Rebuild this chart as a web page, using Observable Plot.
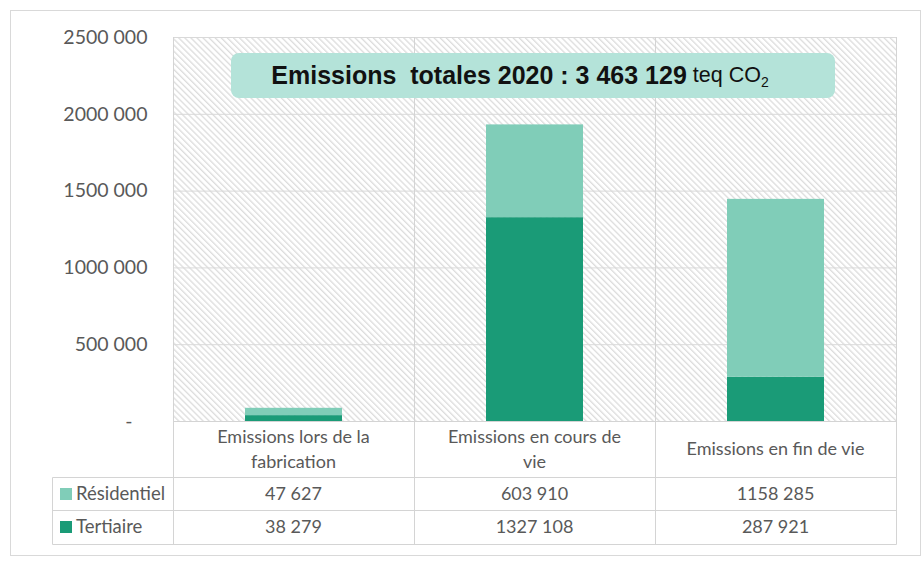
<!DOCTYPE html>
<html>
<head>
<meta charset="utf-8">
<script src="https://cdn.jsdelivr.net/npm/d3@7"></script>
<script src="https://cdn.jsdelivr.net/npm/@observablehq/plot@0.6"></script>
<style>
  html, body { margin: 0; padding: 0; background: #fff; }
  #wrap { position: relative; width: 922px; height: 566px; }
  #title {
    position: absolute; left: 231px; top: 53px; width: 604px; height: 45px;
    background: #b4e3d9; border-radius: 8px;
    font-family: "Liberation Sans", Arial, sans-serif; color: #111;
    display: flex; align-items: center; justify-content: center;
    box-sizing: border-box; padding-right: 26px; white-space: pre;
    font-size: 21.5px;
  }
  #title b { font-weight: bold; font-size: 25px; }
  #title .sub { font-size: 14px; position: relative; top: 6px; }
</style>
</head>
<body>
<div id="wrap">
  <div id="chart"></div>
  <div id="title"><b>Emissions  totales 2020 : 3 463 129</b> teq CO<span class="sub">2</span></div>
</div>
<script>
// ---- data ----
const categories = ["Emissions lors de la fabrication", "Emissions en cours de vie", "Emissions en fin de vie"];
const categoryLines = [["Emissions lors de la", "fabrication"], ["Emissions en cours de", "vie"], ["Emissions en fin de vie"]];
const series = ["Tertiaire", "Résidentiel"];
const tertiaire = [38279, 1327108, 287921];
const residentiel = [47627, 603910, 1158285];
const seriesColors = ["#1a9b77", "#80cdb8"];
const yTicks = [0, 500000, 1000000, 1500000, 2000000, 2500000];
const tableRows = ["Résidentiel", "Tertiaire"];

// Excel-like format: "2500 000", "47 627", zero as "-"
const fmt = v => {
  if (v === 0) return "-\u00a0\u00a0\u00a0";
  const s = String(v);
  return s.length > 3 ? s.slice(0, -3) + " " + s.slice(-3) : s;
};

const rows = [];
categories.forEach((c, i) => {
  rows.push({category: c, series: "Tertiaire", value: tertiaire[i]});
  rows.push({category: c, series: "Résidentiel", value: residentiel[i]});
});
const tableValues = {"Résidentiel": residentiel, "Tertiaire": tertiaire};

function tableMark(index, scales, values, dims) {
  const x = scales.x;
  const plotW = dims.width - dims.marginLeft - dims.marginRight;
  const bw = (x.bandwidth ? x.bandwidth() : plotW / categories.length);
  const top = dims.marginTop;
  const base = dims.height - dims.marginBottom;
  const headerBottom = base + 56;
  const rowEdges = [headerBottom, headerBottom + 33, headerBottom + 67];
  const legendLeft = 52;
  const lineColor = "#d4d4d4";
  const g = d3.create("svg:g");
  // outer chart border
  g.append("rect").attr("x", 10.5).attr("y", 10.5).attr("width", 910).attr("height", 545)
    .attr("fill", "none").attr("stroke", "#d9d9d9");
  const line = (x1, y1, x2, y2) => g.append("line")
    .attr("x1", x1).attr("y1", y1).attr("x2", x2).attr("y2", y2)
    .attr("stroke", lineColor).attr("stroke-width", 1);
  const bounds = categories.map(c => x(c)).concat([x(categories[categories.length - 1]) + bw]).map(v => Math.round(v) + 0.5);
  const right = bounds[bounds.length - 1];
  bounds.forEach(bx => line(bx, top, bx, rowEdges[2] + 0.5));
  line(bounds[0], base + 0.5, right, base + 0.5);
  rowEdges.forEach(ry => line(legendLeft + 0.5, ry + 0.5, right, ry + 0.5));
  line(legendLeft + 0.5, headerBottom + 0.5, legendLeft + 0.5, rowEdges[2] + 0.5);
  // header
  categories.forEach((c, i) => {
    const cx = x(c) + bw / 2;
    const lines = categoryLines[i];
    const ys = lines.length === 2 ? [base + 16, base + 41] : [base + 28];
    lines.forEach((t, k) => g.append("text")
      .attr("x", cx).attr("y", ys[k]).attr("dy", "0.35em")
      .attr("text-anchor", "middle").attr("font-size", 18).attr("fill", "#595959").text(t));
  });
  // rows
  tableRows.forEach((r, j) => {
    const cy = rowEdges[j] + 17;
    const color = seriesColors[series.indexOf(r)];
    g.append("rect").attr("x", 60).attr("y", cy - 6).attr("width", 12).attr("height", 12).attr("fill", color);
    g.append("text").attr("x", 76).attr("y", cy).attr("dy", "0.35em")
      .attr("text-anchor", "start").attr("font-size", 18.5).attr("fill", "#595959").text(r);
    categories.forEach((c, i) => {
      g.append("text").attr("x", x(c) + bw / 2).attr("y", cy).attr("dy", "0.35em")
        .attr("text-anchor", "middle").attr("font-size", 18).attr("fill", "#595959")
        .text(fmt(tableValues[r][i]));
    });
  });
  return g.node();
}

const chart = Plot.plot({
  width: 922,
  height: 566,
  marginLeft: 173,
  marginRight: 26,
  marginTop: 37,
  marginBottom: 145,
  style: {fontFamily: "Lato, sans-serif", fontSize: "18px", color: "#595959", background: "transparent", overflow: "visible"},
  x: {type: "band", domain: categories, padding: 0, axis: null},
  y: {domain: [0, 2500000], axis: null},
  color: {domain: series, range: seriesColors},
  marks: [
    Plot.frame({fill: "url(#hatch)", stroke: null}),
    Plot.gridY(yTicks, {stroke: "#d9d9d9", strokeOpacity: 1, strokeWidth: 1}),
    Plot.barY(rows, {x: "category", y: "value", fill: "series", insetLeft: 72, insetRight: 72}),
    Plot.axisY(yTicks, {tickSize: 0, tickPadding: 26, tickFormat: fmt, fontSize: 19.5, label: null}),
    tableMark
  ]
});

// hatch pattern for the plot area
const ns = "http://www.w3.org/2000/svg";
const defs = document.createElementNS(ns, "defs");
defs.innerHTML = '<pattern id="hatch" patternUnits="userSpaceOnUse" width="4.3" height="4.3" patternTransform="rotate(-45)">' +
  '<rect width="4.3" height="4.3" fill="#ffffff"/>' +
  '<line x1="0.7" y1="0" x2="0.7" y2="4.3" stroke="#d6d6d6" stroke-width="1.1"/></pattern>';
chart.insertBefore(defs, chart.firstChild);
document.getElementById("chart").appendChild(chart);
</script>
</body>
</html>
